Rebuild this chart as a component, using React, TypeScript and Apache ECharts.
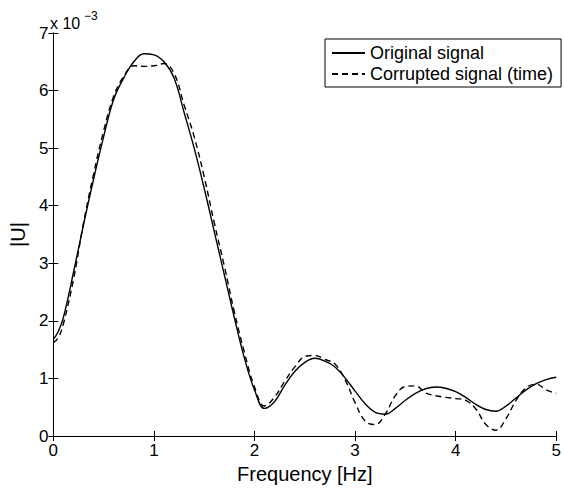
import React, { useEffect, useRef } from "react";
import * as echarts from "echarts";

const freq = [
  0.0, 0.05, 0.1, 0.2, 0.3, 0.4, 0.5, 0.6, 0.7, 0.8, 0.9,
  1.0, 1.1, 1.2, 1.3, 1.4, 1.5, 1.6, 1.7, 1.8, 1.9,
  2.0, 2.1, 2.2, 2.3, 2.4, 2.5, 2.6, 2.7, 2.8, 2.9,
  3.0, 3.1, 3.2, 3.3, 3.4, 3.5, 3.6, 3.7, 3.8, 3.9,
  4.0, 4.1, 4.2, 4.3, 4.4, 4.5, 4.6, 4.7, 4.8, 4.9,
  5.0,
];

// |U| in units of 1e-3
const original = [
  1.68, 1.82, 2.06, 2.84, 3.67, 4.46, 5.2, 5.85, 6.22, 6.5, 6.64,
  6.62, 6.5, 6.22, 5.62, 5.0, 4.3, 3.55, 2.8, 2.05, 1.35,
  0.8, 0.48, 0.6, 0.88, 1.12, 1.28, 1.35, 1.3, 1.2, 1.01,
  0.78, 0.56, 0.41, 0.38, 0.48, 0.62, 0.74, 0.82, 0.85, 0.83,
  0.77, 0.67, 0.55, 0.46, 0.43, 0.52, 0.66, 0.8, 0.91, 0.98,
  1.02,
];

const corrupted = [
  1.62, 1.71, 1.95, 2.72, 3.7, 4.55, 5.3, 5.9, 6.25, 6.43, 6.42,
  6.43, 6.47, 6.3, 5.75, 5.2, 4.5, 3.7, 2.95, 2.15, 1.45,
  0.85, 0.52, 0.68, 0.95, 1.2, 1.38, 1.4, 1.33, 1.25, 0.98,
  0.58, 0.26, 0.2, 0.38, 0.7, 0.86, 0.87, 0.75, 0.7, 0.67,
  0.65, 0.62, 0.47, 0.2, 0.1, 0.3, 0.62, 0.84, 0.9, 0.8,
  0.74,
];

const seriesNames = ["Original signal", "Corrupted signal (time)"];
const xLabel = "Frequency [Hz]";
const yLabel = "|U|";
const exponentBase = "x 10";
const exponentPower = "\u22123";
const xRange = [0, 5];
const yRange = [0, 7];

export default function App() {
  const ref = useRef<HTMLDivElement>(null);
  useEffect(() => {
    const chart = echarts.init(ref.current!, null, { renderer: "svg" });
    const font = "'Liberation Sans', Arial, Helvetica, sans-serif";
    const black = "#000";
    const tickCommon = {
      axisLine: { show: true, lineStyle: { color: black, width: 1 } },
      axisTick: { show: true, inside: true, length: 5, lineStyle: { color: black, width: 1 } },
      splitLine: { show: false },
    };
    chart.setOption({
      animation: false,
      backgroundColor: "#fff",
      textStyle: { fontFamily: font },
      grid: { left: 49, right: 5, top: 33, bottom: 54, containLabel: false },
      xAxis: [
        {
          type: "value",
          position: "bottom",
          min: xRange[0],
          max: xRange[1],
          interval: 1,
          ...tickCommon,
          axisLabel: { color: black, fontSize: 17, fontFamily: font, margin: 6 },
          name: xLabel,
          nameLocation: "middle",
          nameGap: 28,
          nameTextStyle: { color: black, fontSize: 20, fontFamily: font },
        },
        {
          type: "value",
          position: "top",
          min: xRange[0],
          max: xRange[1],
          interval: 1,
          ...tickCommon,
          axisLabel: { show: false },
        },
      ],
      yAxis: [
        {
          type: "value",
          position: "left",
          min: yRange[0],
          max: yRange[1],
          interval: 1,
          ...tickCommon,
          axisLabel: { color: black, fontSize: 17, fontFamily: font, margin: 5 },
          name: yLabel,
          nameLocation: "middle",
          nameGap: 22,
          nameRotate: 90,
          nameTextStyle: { color: black, fontSize: 20, fontFamily: font },
        },
        {
          type: "value",
          position: "right",
          min: yRange[0],
          max: yRange[1],
          interval: 1,
          ...tickCommon,
          axisLabel: { show: false },
        },
      ],
      legend: {
        orient: "vertical",
        left: 325,
        top: 39,
        itemWidth: 33,
        itemHeight: 14,
        itemGap: 3,
        padding: [5, 8, 4, 6],
        borderColor: black,
        borderWidth: 1,
        backgroundColor: "#fff",
        itemStyle: { color: "rgba(0,0,0,0)", borderWidth: 0, opacity: 0 },
        textStyle: { color: black, fontSize: 18, fontFamily: font },
        data: seriesNames,
      },
      graphic: [
        {
          type: "text",
          x: 50,
          y: 23,
          style: { text: exponentBase, fontSize: 16, fontFamily: font, fill: black, verticalAlign: "middle" },
        },
        {
          type: "text",
          x: 84,
          y: 16,
          style: { text: exponentPower, fontSize: 12, fontFamily: font, fill: black, verticalAlign: "middle" },
        },
      ],
      series: [
        {
          name: seriesNames[0],
          type: "line",
          xAxisIndex: 0,
          yAxisIndex: 0,
          data: freq.map((f, i) => [f, original[i]]),
          symbol: "none",
          smooth: 0.4,
          lineStyle: { color: black, width: 1.4, type: "solid" },
          itemStyle: { color: black },
        },
        {
          name: seriesNames[1],
          type: "line",
          xAxisIndex: 0,
          yAxisIndex: 0,
          data: freq.map((f, i) => [f, corrupted[i]]),
          symbol: "none",
          smooth: 0.4,
          lineStyle: { color: black, width: 1.4, type: [6, 4] },
          itemStyle: { color: black },
        },
      ],
    });
    return () => chart.dispose();
  }, []);
  return <div ref={ref} style={{ position: "fixed", left: 0, top: 0, width: 564, height: 490 }} />;
}
